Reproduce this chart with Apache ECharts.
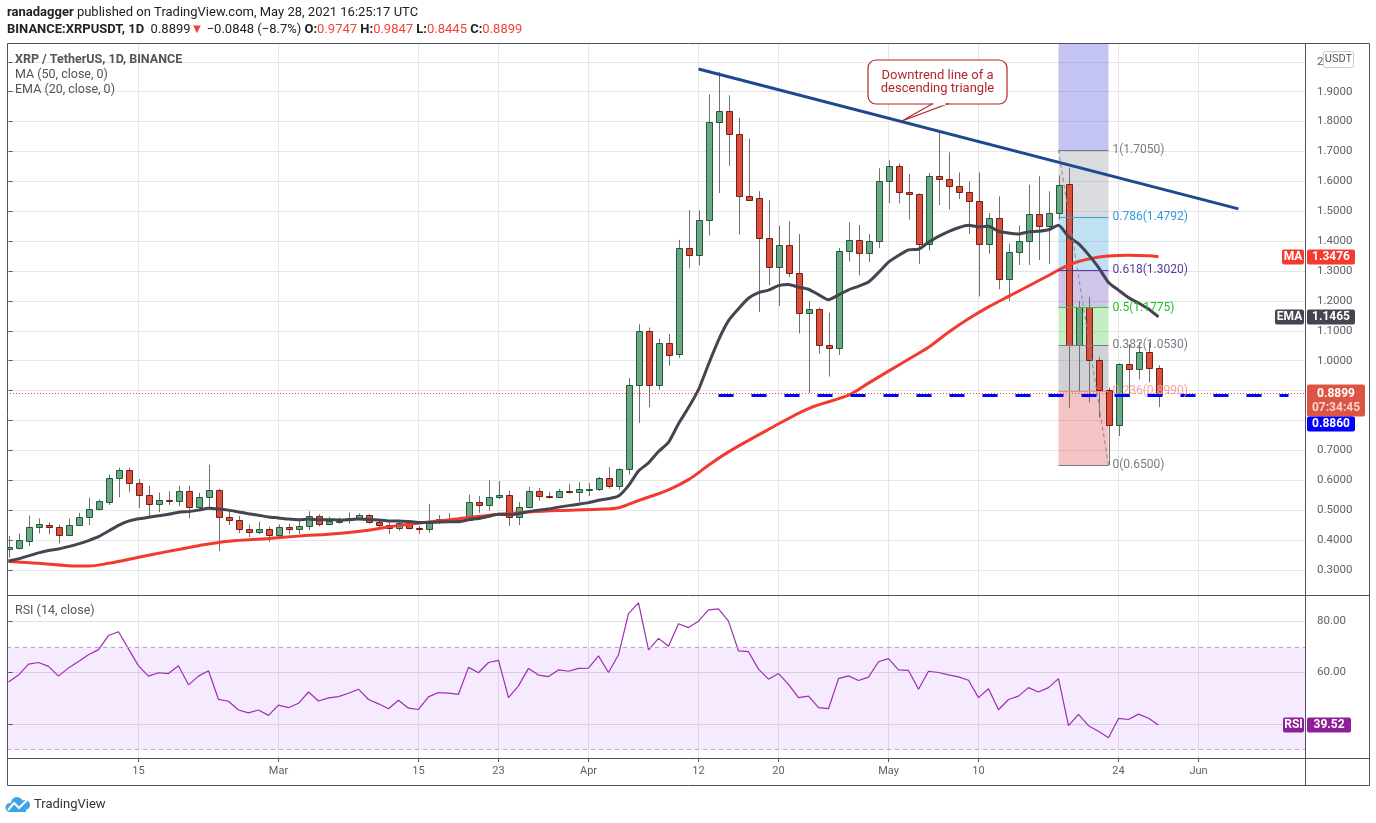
<!DOCTYPE html>
<html>
<head>
<meta charset="utf-8">
<title>XRP / TetherUS, 1D, BINANCE</title>
<script src="https://cdn.jsdelivr.net/npm/echarts@6.0.0/dist/echarts.min.js"></script>
<style>
  html, body { margin: 0; padding: 0; background: #fff; }
  #main { width: 1376px; height: 823px; }
</style>
</head>
<body>
<div id="main"></div>
<script type="text/javascript">
    // ---- data ----
    var startDate = '2021-02-02';

    // daily candles, [open, high, low, close], Feb 2 .. May 28
    var candles = [
        [0.370, 0.413, 0.341, 0.375], [0.374, 0.422, 0.368, 0.399], [0.397, 0.482, 0.380, 0.444], [0.443, 0.472, 0.422, 0.452],
        [0.451, 0.459, 0.419, 0.444], [0.444, 0.452, 0.389, 0.417], [0.417, 0.472, 0.413, 0.451], [0.451, 0.491, 0.447, 0.478],
        [0.478, 0.542, 0.450, 0.504], [0.504, 0.536, 0.499, 0.529], [0.528, 0.619, 0.517, 0.608], [0.608, 0.642, 0.543, 0.634],
        [0.634, 0.642, 0.560, 0.591], [0.591, 0.604, 0.507, 0.551], [0.551, 0.582, 0.478, 0.521], [0.521, 0.559, 0.493, 0.534],
        [0.534, 0.563, 0.517, 0.530], [0.531, 0.582, 0.513, 0.564], [0.564, 0.582, 0.473, 0.511], [0.511, 0.558, 0.505, 0.544],
        [0.544, 0.652, 0.508, 0.568], [0.568, 0.571, 0.363, 0.478], [0.478, 0.501, 0.450, 0.468], [0.468, 0.481, 0.423, 0.438],
        [0.438, 0.452, 0.410, 0.428], [0.428, 0.461, 0.420, 0.438], [0.438, 0.445, 0.394, 0.418], [0.418, 0.452, 0.411, 0.444],
        [0.444, 0.454, 0.420, 0.438], [0.438, 0.468, 0.420, 0.448], [0.448, 0.496, 0.433, 0.481], [0.481, 0.486, 0.446, 0.454],
        [0.454, 0.478, 0.450, 0.464], [0.463, 0.475, 0.455, 0.465], [0.466, 0.492, 0.455, 0.474], [0.474, 0.489, 0.470, 0.484],
        [0.484, 0.487, 0.454, 0.461], [0.461, 0.467, 0.441, 0.450], [0.451, 0.458, 0.420, 0.441], [0.441, 0.468, 0.431, 0.458],
        [0.458, 0.461, 0.435, 0.440], [0.440, 0.447, 0.421, 0.437], [0.437, 0.521, 0.424, 0.459], [0.459, 0.484, 0.453, 0.469],
        [0.470, 0.490, 0.460, 0.467], [0.468, 0.474, 0.460, 0.465], [0.467, 0.552, 0.464, 0.527], [0.527, 0.547, 0.491, 0.517],
        [0.517, 0.600, 0.498, 0.544], [0.544, 0.597, 0.537, 0.550], [0.550, 0.565, 0.447, 0.478], [0.478, 0.527, 0.450, 0.510],
        [0.510, 0.578, 0.505, 0.564], [0.564, 0.574, 0.532, 0.547], [0.547, 0.560, 0.538, 0.545], [0.545, 0.571, 0.540, 0.564],
        [0.565, 0.587, 0.555, 0.562], [0.559, 0.594, 0.528, 0.571], [0.570, 0.590, 0.548, 0.572], [0.572, 0.611, 0.564, 0.609],
        [0.609, 0.644, 0.572, 0.580], [0.580, 0.640, 0.567, 0.636], [0.636, 0.942, 0.619, 0.917], [0.917, 1.122, 0.792, 1.098],
        [1.098, 1.111, 0.844, 0.917], [0.917, 1.074, 0.903, 1.058], [1.058, 1.089, 0.983, 1.020], [1.022, 1.404, 1.010, 1.377],
        [1.377, 1.504, 1.310, 1.354], [1.354, 1.503, 1.319, 1.470], [1.470, 1.891, 1.419, 1.797], [1.797, 1.966, 1.561, 1.837],
        [1.837, 1.888, 1.652, 1.760], [1.760, 1.813, 1.422, 1.550], [1.550, 1.743, 1.536, 1.539], [1.543, 1.567, 1.163, 1.410],
        [1.410, 1.538, 1.252, 1.313], [1.313, 1.452, 1.183, 1.387], [1.387, 1.467, 1.280, 1.294], [1.293, 1.424, 1.091, 1.161],
        [1.161, 1.200, 0.891, 1.174], [1.174, 1.178, 1.024, 1.054], [1.054, 1.161, 0.947, 1.041], [1.041, 1.377, 1.019, 1.367],
        [1.367, 1.463, 1.332, 1.404], [1.404, 1.454, 1.286, 1.361], [1.361, 1.424, 1.330, 1.400], [1.400, 1.644, 1.377, 1.600],
        [1.600, 1.671, 1.527, 1.653], [1.653, 1.660, 1.527, 1.563], [1.563, 1.624, 1.472, 1.557], [1.557, 1.560, 1.324, 1.390],
        [1.390, 1.628, 1.369, 1.617], [1.617, 1.769, 1.521, 1.608], [1.608, 1.697, 1.506, 1.583], [1.583, 1.630, 1.541, 1.563],
        [1.563, 1.600, 1.424, 1.536], [1.536, 1.630, 1.215, 1.391], [1.391, 1.494, 1.358, 1.478], [1.478, 1.550, 1.239, 1.272],
        [1.272, 1.392, 1.200, 1.364], [1.364, 1.452, 1.320, 1.402], [1.402, 1.589, 1.320, 1.492], [1.492, 1.617, 1.337, 1.450],
        [1.450, 1.567, 1.324, 1.494], [1.494, 1.620, 1.472, 1.588], [1.591, 1.646, 0.843, 1.054], [1.054, 1.200, 0.894, 1.178],
        [1.178, 1.213, 0.860, 1.002], [1.002, 1.013, 0.809, 0.901], [0.901, 0.910, 0.650, 0.784], [0.784, 0.991, 0.748, 0.989],
        [0.989, 1.054, 0.877, 0.971], [0.971, 1.062, 0.938, 1.030], [1.030, 1.062, 0.927, 0.9747], [0.9747, 0.9847, 0.8445, 0.8899]
    ];

    // EMA (20, close) one value per day
    var emaValues = [
        0.330, 0.337, 0.347, 0.357, 0.365, 0.370, 0.378, 0.387, 0.398, 0.411,
        0.430, 0.449, 0.463, 0.471, 0.476, 0.481, 0.486, 0.493, 0.495, 0.500,
        0.506, 0.504, 0.500, 0.494, 0.488, 0.483, 0.477, 0.474, 0.470, 0.468,
        0.470, 0.468, 0.468, 0.467, 0.468, 0.470, 0.469, 0.467, 0.464, 0.464,
        0.462, 0.459, 0.459, 0.460, 0.461, 0.461, 0.468, 0.472, 0.479, 0.486,
        0.485, 0.488, 0.495, 0.500, 0.504, 0.510, 0.515, 0.520, 0.525, 0.533,
        0.538, 0.547, 0.582, 0.631, 0.658, 0.696, 0.727, 0.789, 0.843, 0.903,
        0.988, 1.069, 1.134, 1.174, 1.209, 1.228, 1.236, 1.251, 1.255, 1.246,
        1.239, 1.221, 1.204, 1.220, 1.237, 1.249, 1.263, 1.295, 1.330, 1.352,
        1.371, 1.373, 1.396, 1.416, 1.432, 1.445, 1.453, 1.448, 1.450, 1.433,
        1.427, 1.424, 1.431, 1.433, 1.438, 1.453, 1.415, 1.392, 1.355, 1.312,
        1.262, 1.236, 1.211, 1.193, 1.173, 1.1465
    ];

    // MA (50, close) read at these dates
    var maPoints = [
        ['2021-02-02', 0.328], ['2021-02-05', 0.322], ['2021-02-08', 0.314], ['2021-02-10', 0.313],
        ['2021-02-12', 0.322], ['2021-02-15', 0.342], ['2021-02-18', 0.362], ['2021-02-21', 0.381],
        ['2021-02-24', 0.396], ['2021-02-28', 0.405], ['2021-03-03', 0.413], ['2021-03-07', 0.422],
        ['2021-03-10', 0.433], ['2021-03-13', 0.449], ['2021-03-16', 0.460], ['2021-03-19', 0.471],
        ['2021-03-23', 0.486], ['2021-03-26', 0.494], ['2021-03-29', 0.499], ['2021-04-02', 0.503],
        ['2021-04-04', 0.508], ['2021-04-06', 0.532], ['2021-04-09', 0.568], ['2021-04-11', 0.602],
        ['2021-04-13', 0.650], ['2021-04-15', 0.695], ['2021-04-19', 0.770], ['2021-04-23', 0.840],
        ['2021-04-27', 0.885], ['2021-04-29', 0.925], ['2021-05-01', 0.965], ['2021-05-03', 1.005],
        ['2021-05-05', 1.045], ['2021-05-07', 1.095], ['2021-05-09', 1.140], ['2021-05-11', 1.180],
        ['2021-05-13', 1.215], ['2021-05-15', 1.250], ['2021-05-17', 1.285], ['2021-05-19', 1.320],
        ['2021-05-21', 1.340], ['2021-05-23', 1.350], ['2021-05-25', 1.353], ['2021-05-27', 1.351],
        ['2021-05-28', 1.3476]
    ];

    // RSI (14, close) one value per day
    var rsiValues = [
        56.3, 59.0, 63.3, 63.9, 62.4, 58.6, 61.8, 64.3, 66.9, 68.9,
        74.4, 75.9, 69.2, 62.6, 58.6, 59.9, 59.6, 62.6, 55.2, 58.6,
        60.7, 49.5, 48.8, 45.4, 44.3, 45.4, 43.3, 47.3, 46.3, 48.0,
        52.4, 48.9, 50.1, 50.6, 51.9, 53.5, 49.5, 47.8, 45.9, 49.2,
        46.1, 45.6, 50.5, 52.2, 52.0, 51.5, 62.0, 59.9, 63.9, 64.7,
        50.2, 54.8, 61.6, 59.0, 58.4, 61.0, 60.5, 61.6, 61.7, 66.5,
        60.0, 66.9, 82.9, 87.1, 68.8, 73.3, 70.2, 79.0, 77.5, 80.0,
        84.4, 84.8, 80.0, 68.4, 68.1, 61.3, 57.4, 59.6, 55.4, 50.2,
        50.8, 46.3, 45.9, 57.6, 58.7, 56.9, 58.2, 64.2, 65.4, 61.0,
        60.8, 53.5, 60.5, 60.0, 59.1, 58.3, 57.0, 50.2, 53.7, 45.5,
        49.5, 50.8, 54.1, 52.4, 54.1, 57.6, 39.3, 43.7, 39.3, 37.1,
        34.6, 42.1, 41.7, 43.8, 42.2, 39.52
    ];

    var tickDates = ['2021-02-15', '2021-03-01', '2021-03-15', '2021-03-23', '2021-04-01', '2021-04-12',
                     '2021-04-20', '2021-05-01', '2021-05-10', '2021-05-24', '2021-06-01'];
    var tickLabels = ['15', 'Mar', '15', '23', 'Apr', '12', '20', 'May', '10', '24', 'Jun'];
    var priceTicks = [0.3, 0.4, 0.5, 0.6, 0.7, 0.8, 0.9, 1.0, 1.1, 1.2, 1.3, 1.4, 1.5, 1.6, 1.7, 1.8, 1.9, 2.0];
    var rsiTicks = [40, 60, 80];

    // drawings
    var trendLine = [['2021-04-12', 1.976], ['2021-06-05', 1.508]];
    var supportLevel = 0.886;
    var supportRange = ['2021-04-14', '2021-06-10'];
    var fibRange = ['2021-05-18', '2021-05-23'];
    var fibHigh = 1.705, fibLow = 0.65;
    var fibLevels = [1, 0.786, 0.618, 0.5, 0.382, 0.236, 0];
    var lastPrice = 0.8899, maLast = 1.3476, emaLast = 1.1465, rsiLast = 39.52;
    var countdown = '07:34:45';

    // ---- helpers ----
    function dayIndex(s) {
        return Math.round((Date.parse(s) - Date.parse(startDate)) / 864e5);
    }
    var xMin = -0.15, xMax = 129.65;
    var priceMin = 0.216, priceMax = 2.063;
    var tickIdx = tickDates.map(dayIndex);

    var upFill = '#6ba784', upLine = '#1f5a35', downFill = '#d7513e', downLine = '#7a1c10', wickColor = '#6f6f6f';

    var candleData = candles.map(function (r, i) { return [i, r[0], r[1], r[2], r[3]]; });

    function drawCandle(params, api) {
        var i = api.value(0);
        var o = api.value(1), h = api.value(2), l = api.value(3), c = api.value(4);
        var po = api.coord([i, o]), pc = api.coord([i, c]);
        var ph = api.coord([i, h]), pl = api.coord([i, l]);
        var x = Math.round(po[0]) + 0.5;
        var up = c >= o;
        var top = Math.round(Math.min(po[1], pc[1])) + 0.5;
        var bot = Math.round(Math.max(po[1], pc[1])) + 0.5;
        if (bot - top < 1) bot = top + 1;
        return {
            type: 'group',
            children: [
                { type: 'line', shape: { x1: x, y1: ph[1], x2: x, y2: pl[1] }, style: { stroke: wickColor, lineWidth: 1 } },
                { type: 'rect', shape: { x: x - 3, y: top, width: 6, height: bot - top },
                  style: { fill: up ? upFill : downFill, stroke: up ? upLine : downLine, lineWidth: 1 } }
            ]
        };
    }

    // fibonacci drawing
    var fx1 = dayIndex(fibRange[0]), fx2 = dayIndex(fibRange[1]);
    function fibPrice(lv) { return fibLow + (fibHigh - fibLow) * lv; }
    var fibLineColors = ['#787b86', '#3a9fd8', '#5e35b1', '#33c633', '#787b86', '#f08a8a', '#787b86'];
    var fibTextColors = ['#787b86', '#2f9ae0', '#5b3a9e', '#22c022', '#787b86', '#f2a3a3', '#787b86'];
    var fibFills = ['rgba(120,123,134,0.27)', 'rgba(60,160,220,0.32)', 'rgba(103,58,183,0.3)',
                    'rgba(60,200,60,0.3)', 'rgba(120,123,134,0.35)', 'rgba(220,70,70,0.32)'];
    var fibAreas = [[{ coord: [fx1, fibHigh], itemStyle: { color: 'rgba(100,100,220,0.38)' } }, { coord: [fx2, priceMax] }]];
    for (var k = 0; k < fibLevels.length - 1; k++) {
        fibAreas.push([{ coord: [fx1, fibPrice(fibLevels[k])], itemStyle: { color: fibFills[k] } },
                       { coord: [fx2, fibPrice(fibLevels[k + 1])] }]);
    }
    var fibLines = fibLevels.map(function (lv, k) {
        var p = fibPrice(lv);
        return [{
            coord: [fx1, p],
            lineStyle: { color: fibLineColors[k], width: 1, type: 'solid' },
            label: { show: true, position: 'end', distance: 4, formatter: lv + '(' + p.toFixed(4) + ')',
                     color: fibTextColors[k], fontSize: 12, fontFamily: 'Roboto' }
        }, { coord: [fx2, p] }];
    });
    fibLines.push([{ coord: [fx1, fibHigh], lineStyle: { color: '#8a8a8a', width: 1, type: [4, 3] }, label: { show: false } },
                   { coord: [fx2, fibLow] }]);

    var font = 'Roboto, sans-serif';
    var chart = echarts.init(document.getElementById('main'));

    var option = {
        backgroundColor: '#ffffff',
        animation: false,
        grid: [
            { left: 7, right: 71, top: 43, height: 552 },
            { left: 7, right: 71, top: 596, height: 162 }
        ],
        xAxis: [
            {
                type: 'value', gridIndex: 0, min: xMin, max: xMax,
                axisLine: { show: false }, axisLabel: { show: false },
                axisTick: { show: false, customValues: tickIdx },
                splitLine: { show: true, lineStyle: { color: '#e6e6e6' } }
            },
            {
                type: 'value', gridIndex: 1, min: xMin, max: xMax,
                axisLine: { show: false },
                axisTick: { show: true, length: 4, customValues: tickIdx, lineStyle: { color: '#50535e' } },
                axisLabel: {
                    customValues: tickIdx, margin: 8, color: '#5d606b', fontSize: 11, fontFamily: font,
                    formatter: function (v) {
                        var k = tickIdx.indexOf(Math.round(v));
                        return k >= 0 ? tickLabels[k] : '';
                    }
                },
                splitLine: { show: true, lineStyle: { color: '#e6e6e6' } }
            }
        ],
        yAxis: [
            {
                type: 'value', gridIndex: 0, position: 'right', min: priceMin, max: priceMax,
                axisLine: { show: false },
                axisTick: { show: true, length: 4, customValues: priceTicks, lineStyle: { color: '#50535e' } },
                axisLabel: {
                    customValues: priceTicks, margin: 12, color: '#5d606b', fontSize: 11.5, fontFamily: font,
                    formatter: function (v) { return v.toFixed(4); }
                },
                splitLine: { show: true, lineStyle: { color: '#e6e6e6' } }
            },
            {
                type: 'value', gridIndex: 1, position: 'right', min: 26.7, max: 89.8,
                axisLine: { show: false },
                axisTick: { show: true, length: 4, customValues: rsiTicks, lineStyle: { color: '#50535e' } },
                axisLabel: {
                    customValues: rsiTicks, margin: 12, color: '#5d606b', fontSize: 11.5, fontFamily: font,
                    formatter: function (v) { return v.toFixed(2); }
                },
                splitLine: { show: true, lineStyle: { color: '#e3dbe6' } }
            }
        ],
        series: [
            {
                name: 'fib', type: 'line', xAxisIndex: 0, yAxisIndex: 0, data: [], z: 1, silent: true,
                markArea: { silent: true, data: fibAreas },
                markLine: { silent: true, symbol: ['none', 'none'], data: fibLines }
            },
            {
                name: 'rsiBand', type: 'line', xAxisIndex: 1, yAxisIndex: 1, data: [], z: 1, silent: true,
                markArea: { silent: true, itemStyle: { color: 'rgba(153,21,255,0.09)' }, data: [[{ yAxis: 70 }, { yAxis: 30 }]] },
                markLine: {
                    silent: true, symbol: ['none', 'none'], label: { show: false },
                    lineStyle: { color: '#b9a7c4', type: [4, 4], width: 1 },
                    data: [{ yAxis: 70 }, { yAxis: 30 }]
                }
            },
            {
                name: 'XRPUSDT', type: 'custom', xAxisIndex: 0, yAxisIndex: 0, z: 3, clip: true,
                renderItem: drawCandle, encode: { x: 0, y: [1, 2, 3, 4] }, data: candleData
            },
            {
                name: 'MA (50, close, 0)', type: 'line', xAxisIndex: 0, yAxisIndex: 0, z: 4,
                smooth: 0.35, showSymbol: false, silent: true,
                lineStyle: { color: '#f23b2e', width: 3 },
                data: maPoints.map(function (p) { return [dayIndex(p[0]), p[1]]; })
            },
            {
                name: 'EMA (20, close, 0)', type: 'line', xAxisIndex: 0, yAxisIndex: 0, z: 4,
                smooth: 0.2, showSymbol: false, silent: true,
                lineStyle: { color: '#434651', width: 3 },
                data: emaValues.map(function (v, i) { return [i, v]; })
            },
            {
                name: 'drawings', type: 'line', xAxisIndex: 0, yAxisIndex: 0, data: [], z: 5, silent: true,
                markLine: {
                    silent: true, symbol: ['none', 'none'], label: { show: false },
                    data: [
                        [{ coord: [dayIndex(trendLine[0][0]), trendLine[0][1]], lineStyle: { color: '#1d4a8f', width: 3, type: 'solid' } },
                         { coord: [dayIndex(trendLine[1][0]), trendLine[1][1]] }],
                        [{ coord: [dayIndex(supportRange[0]), supportLevel], lineStyle: { color: '#0000ff', width: 3, type: [15, 18] } },
                         { coord: [dayIndex(supportRange[1]), supportLevel] }],
                        { yAxis: lastPrice, lineStyle: { color: '#e0523f', width: 1, type: [1, 2] } }
                    ]
                }
            },
            {
                name: 'RSI', type: 'line', xAxisIndex: 1, yAxisIndex: 1, z: 4,
                showSymbol: false, silent: true,
                lineStyle: { color: '#9b2fae', width: 1.2 },
                data: rsiValues.map(function (v, i) { return [i, v]; })
            }
        ]
    };
    chart.setOption(option);

    // ---- texts, frame and price tags ----
    function py(v) { return chart.convertToPixel({ yAxisIndex: 0 }, v); }
    function ry(v) { return chart.convertToPixel({ yAxisIndex: 1 }, v); }

    function txt(x, y, text, style) {
        var s = { text: text, x: 0, y: 0, fill: '#4a4a4a', font: '12px ' + font, textVerticalAlign: 'middle', verticalAlign: 'middle' };
        for (var key in style) s[key] = style[key];
        return { type: 'text', x: x, y: y, z: 300, style: s, silent: true };
    }
    function box(x, y, w, h, fill, stroke) {
        return { type: 'rect', z: 290, silent: true, shape: { x: x, y: y, width: w, height: h, r: 2 },
                 style: { fill: fill, stroke: stroke || null, lineWidth: 1 } };
    }
    function tag(x, yc, w, fill, text) {
        return [box(x, Math.round(yc) - 7.5, w, 15, fill),
                txt(x + w / 2, Math.round(yc), text, { fill: '#ffffff', font: 'bold 12px ' + font, textAlign: 'center', align: 'center' })];
    }
    function hline(x1, x2, y, color, width) {
        return { type: 'line', z: 280, silent: true, shape: { x1: x1, y1: y, x2: x2, y2: y }, style: { stroke: color || '#50535e', lineWidth: width || 1 } };
    }
    function vline(x, y1, y2) {
        return { type: 'line', z: 280, silent: true, shape: { x1: x, y1: y1, x2: x, y2: y2 }, style: { stroke: '#50535e', lineWidth: 1 } };
    }

    var yMA = py(maLast), yEMA = py(emaLast), yLast = py(lastPrice), yRsi = ry(rsiLast);
    var red = '#f0443a';
    var g = [];

    // header
    g.push(txt(7, 13, '{b|ranadagger} published on TradingView.com, May 28, 2021 16:25:17 UTC', {
        fill: '#222', font: '13px ' + font,
        rich: { b: { font: 'bold 13px ' + font, fill: '#222', color: '#222' } }
    }));
    g.push(txt(7, 30, '{b|BINANCE:XRPUSDT, 1D}  0.8899{r|▼} −0.0848 (−8.7%) {b|O:}{r|0.9747} {b|H:}{r|0.9847} {b|L:}{r|0.8445} {b|C:}{r|0.8899}', {
        fill: '#222', font: '13px ' + font,
        rich: {
            b: { font: 'bold 13px ' + font, fill: '#222', color: '#222' },
            r: { font: '13px ' + font, fill: red, color: red }
        }
    }));

    // legends
    g.push(txt(15, 60, 'XRP / TetherUS, 1D, BINANCE', { fill: '#555', font: 'bold 12.5px ' + font }));
    g.push(txt(15, 75, 'MA (50, close, 0)', { fill: '#555', font: '12.5px ' + font }));
    g.push(txt(15, 90, 'EMA (20, close, 0)', { fill: '#555', font: '12.5px ' + font }));
    g.push(txt(15, 611, 'RSI (14, close)', { fill: '#555', font: '12.5px ' + font }));

    // frame
    g.push({ type: 'rect', z: 280, silent: true, shape: { x: 7.5, y: 43.5, width: 1362, height: 742 },
             style: { fill: null, stroke: '#50535e', lineWidth: 1 } });
    g.push(hline(7.5, 1369.5, 595.5));
    g.push(hline(7.5, 1369.5, 758.5));
    g.push(vline(1305.5, 43.5, 785.5));

    // callout box with pointer
    var calloutColor = '#b3262a';
    g.push({ type: 'rect', z: 260, silent: true, shape: { x: 868, y: 60, width: 139, height: 44, r: 8 },
             style: { fill: '#ffffff', stroke: calloutColor, lineWidth: 1.2 } });
    g.push({ type: 'polygon', z: 261, silent: true, shape: { points: [[932, 104], [902, 121], [947, 104]] },
             style: { fill: '#ffffff', stroke: calloutColor, lineWidth: 1.2 } });
    g.push({ type: 'line', z: 262, silent: true, shape: { x1: 933.5, y1: 104, x2: 945.5, y2: 104 },
             style: { stroke: '#ffffff', lineWidth: 2.5 } });
    g.push(txt(937.5, 75.5, 'Downtrend line of a', { fill: calloutColor, font: '13px ' + font, textAlign: 'center', align: 'center' }));
    g.push(txt(937.5, 89, 'descending triangle', { fill: calloutColor, font: '13px ' + font, textAlign: 'center', align: 'center' }));

    // price tags
    g = g.concat(tag(1282, yMA, 22, '#f23b2e', 'MA'));
    g = g.concat(tag(1307, yMA, 48, '#f23b2e', maLast.toFixed(4)));
    g = g.concat(tag(1275, yEMA, 29, '#434651', 'EMA'));
    g = g.concat(tag(1307, yEMA, 48, '#434651', emaLast.toFixed(4)));
    g.push(box(1307, Math.round(yLast) - 9.5, 58, 32, '#dd5443'));
    g.push(txt(1336, Math.round(yLast), lastPrice.toFixed(4), { fill: '#fff', font: 'bold 12px ' + font, textAlign: 'center', align: 'center' }));
    g.push(txt(1336, Math.round(yLast) + 14, countdown, { fill: '#f7d3cc', font: 'bold 12px ' + font, textAlign: 'center', align: 'center' }));
    g = g.concat(tag(1307, Math.round(yLast) + 30, 48, '#0000ff', supportLevel.toFixed(4)));
    g = g.concat(tag(1283, yRsi, 21, '#8e1f96', 'RSI'));
    g = g.concat(tag(1307, yRsi, 44, '#8e1f96', rsiLast.toFixed(2)));

    // currency box
    g.push(box(1323.5, 51.5, 30, 16, '#ffffff', '#c9cbd1'));
    g.push(txt(1338.5, 59.5, 'USDT', { fill: '#555', font: '11px ' + font, textAlign: 'center', align: 'center' }));

    // footer logo
    var logoBlue = '#3fa2e8';
    g.push({ type: 'circle', z: 300, silent: true, shape: { cx: 17, cy: 803, r: 6 }, style: { fill: logoBlue } });
    g.push({ type: 'circle', z: 300, silent: true, shape: { cx: 25, cy: 805, r: 5 }, style: { fill: logoBlue } });
    g.push({ type: 'circle', z: 300, silent: true, shape: { cx: 10, cy: 807.5, r: 4.5 }, style: { fill: logoBlue } });
    g.push({ type: 'rect', z: 300, silent: true, shape: { x: 10, y: 805, width: 16, height: 7 }, style: { fill: logoBlue } });
    g.push({ type: 'polyline', z: 301, silent: true, shape: { points: [[8, 810], [14, 803], [19, 808], [27, 800]] },
             style: { stroke: '#ffffff', lineWidth: 2, fill: null } });
    g.push(txt(34, 805, 'TradingView', { fill: '#333', font: '13px ' + font }));

    chart.setOption({ graphic: g });
</script>
</body>
</html>
